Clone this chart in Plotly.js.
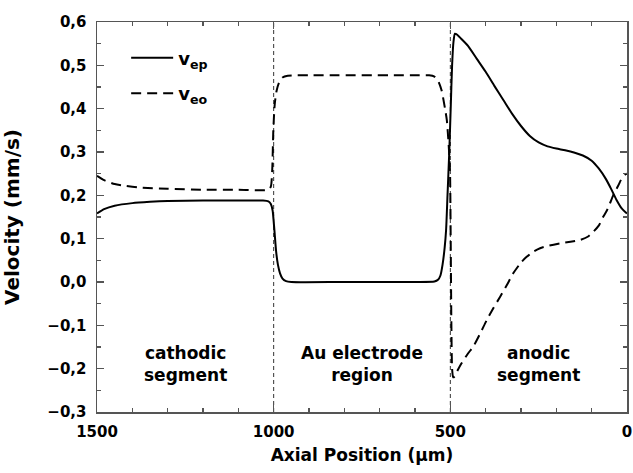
<!DOCTYPE html>
<html>
<head>
<meta charset="utf-8">
<script src="https://cdn.plot.ly/plotly-3.0.1.min.js"></script>
<style>html,body{margin:0;padding:0;background:#fff;}#chart{width:633px;height:473px;}</style>
</head>
<body>
<div id="chart"></div>
<script>
// Axial position (µm) and velocity (mm/s) for v_ep (solid)
const epX = [1500,1480,1450,1400,1350,1300,1200,1100,1030,1015,1008,1003,1000,997,993,988,982,975,965,950,800,600,545,535,528,522,516,512,508,503,499,495,491,487,483,470,450,425,400,375,350,325,300,275,250,225,200,175,150,125,100,80,60,45,30,15,0];
const epY = [0.158,0.168,0.176,0.182,0.185,0.187,0.188,0.188,0.188,0.186,0.180,0.165,0.140,0.110,0.070,0.040,0.020,0.008,0.002,0.000,0.000,0.000,0.001,0.005,0.015,0.040,0.080,0.120,0.200,0.300,0.400,0.500,0.555,0.573,0.572,0.562,0.545,0.515,0.485,0.452,0.420,0.388,0.360,0.337,0.322,0.313,0.308,0.304,0.299,0.292,0.280,0.262,0.238,0.215,0.190,0.170,0.158];
// v_eo (dashed)
const eoX = [1500,1480,1450,1420,1380,1300,1200,1100,1015,1008,1004,1001,997,992,985,975,960,900,600,560,545,535,525,515,510,505,501,499,497,495,492,488,480,470,450,435,415,397,378,359,340,322,300,284,265,246,220,190,160,133,110,95,80,67,57,48,39,25,15,5,0];
const eoY = [0.245,0.235,0.226,0.222,0.218,0.215,0.213,0.213,0.213,0.220,0.260,0.350,0.410,0.440,0.460,0.472,0.476,0.477,0.477,0.477,0.474,0.465,0.443,0.400,0.374,0.320,0.258,0.100,-0.100,-0.200,-0.220,-0.218,-0.205,-0.190,-0.165,-0.149,-0.118,-0.088,-0.060,-0.034,-0.007,0.020,0.045,0.058,0.070,0.078,0.084,0.089,0.093,0.097,0.105,0.116,0.130,0.151,0.165,0.182,0.200,0.222,0.239,0.248,0.250];
// region boundaries
const boundaries = [1000, 500];
const regionLabels = ["cathodic<br>segment", "Au electrode<br>region", "anodic<br>segment"];
const regionCenters = [1250, 750, 250];
const regionLabelY = -0.19;

const FONT = "DejaVu Sans";
const AX = "#555555";

const traces = [
  {x: epX, y: epY, mode: "lines", name: "<b>v</b><sub><b>ep</b></sub>", legendgroup: "a",
   line: {color: "#000", width: 2, shape: "spline", smoothing: 0.6}},
  {x: eoX, y: eoY, mode: "lines", name: "<b>v</b><sub><b>eo</b></sub>", legendgroup: "b",
   line: {color: "#000", width: 2, dash: "10px,6px", shape: "spline", smoothing: 0.6}}
];

const shapes = boundaries.map(b => ({
  type: "line", xref: "x", yref: "paper", x0: b, x1: b, y0: 0, y1: 1,
  line: {color: "#333", width: 1, dash: "4px,3px"}, layer: "below"
}));

const annotations = regionLabels.map((t, i) => ({
  x: regionCenters[i], y: regionLabelY, xref: "x", yref: "y", text: "<b>" + t + "</b>",
  showarrow: false, font: {family: FONT, size: 17, color: "#000"}
}));

const axisCommon = {
  showgrid: false, zeroline: false, showline: true, linecolor: AX, linewidth: 1.5,
  mirror: "allticks", ticks: "inside", tickcolor: AX, tickwidth: 1.2, ticklen: 7,
  tickfont: {family: FONT, size: 15, color: "#000", weight: "bold"}
};

const layout = {
  width: 633, height: 473,
  margin: {l: 97, r: 6, t: 22, b: 61},
  paper_bgcolor: "#fff", plot_bgcolor: "#fff",
  separators: ",.",
  showlegend: true,
  legend: {x: 0.055, y: 0.955, xanchor: "left", yanchor: "top", bgcolor: "rgba(0,0,0,0)",
           itemwidth: 42,
           font: {family: FONT, size: 18, color: "#000"}, traceorder: "grouped", tracegroupgap: 9},
  xaxis: Object.assign({}, axisCommon, {
    range: [1500, 0], tick0: 0, dtick: 500, ticklabelstandoff: 5,
    minor: {dtick: 100, ticks: "inside", ticklen: 4, tickcolor: AX, tickwidth: 1.2},
    title: {text: "<b>Axial Position (μm)</b>", font: {family: FONT, size: 17, color: "#000"}, standoff: 9}
  }),
  yaxis: Object.assign({}, axisCommon, {
    range: [-0.3, 0.6], tick0: 0, dtick: 0.1, tickformat: ".1f", ticklabelstandoff: 6,
    minor: {dtick: 0.05, ticks: "inside", ticklen: 4, tickcolor: AX, tickwidth: 1.2},
    title: {text: "<b>Velocity (mm/s)</b>", font: {family: FONT, size: 20, color: "#000"}, standoff: 26}
  }),
  shapes: shapes,
  annotations: annotations
};

Plotly.newPlot("chart", traces, layout, {displayModeBar: false, staticPlot: true});
</script>
</body>
</html>
